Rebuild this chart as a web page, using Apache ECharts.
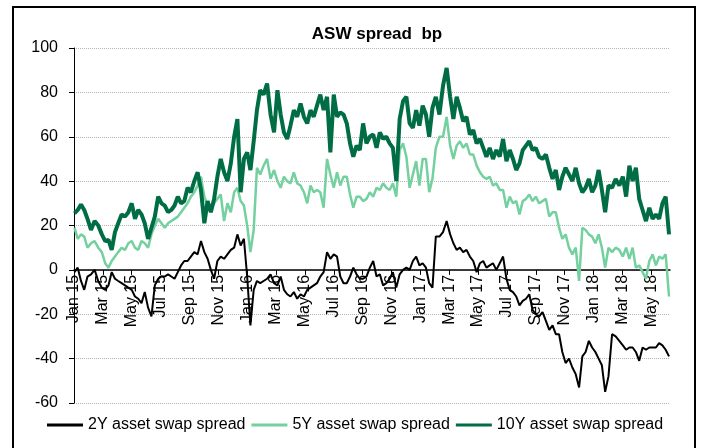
<!DOCTYPE html>
<html>
<head>
<meta charset="utf-8">
<script src="https://cdn.jsdelivr.net/npm/echarts@6/dist/echarts.min.js"></script>
<style>
  html, body { margin: 0; padding: 0; background: #fff; }
  #chart { width: 702px; height: 448px; }
</style>
</head>
<body>
<div id="chart"></div>
<script>
// weekly observations, first one on 2 Jan 2015
const firstWeek = '2015-01-02'
const seriesNames = ['2Y asset swap spread', '5Y asset swap spread', '10Y asset swap spread']
const monthNames = ['Jan', 'Feb', 'Mar', 'Apr', 'May', 'Jun', 'Jul', 'Aug', 'Sep', 'Oct', 'Nov', 'Dec']
const yTicks = [-60, -40, -20, 0, 20, 40, 60, 80, 100]

const asw2y = [
  -1, 1, -5, -9, -3, -2, 0, -5, -8, -9, -7, -1, -4, -5, -6, -7, -8, -9, -12, -13, -15, -10,
  -17, -21, -7, -4, -3, -3, -2, -3, -4, -1, 2, 4, 4, 6, 8, 7, 13, 8, 5, 0, -4, 4,
  6, 5, 7, 9, 10, 16, 11, 14, -3, -25, -9, -5, -6, -5, -4, -2, -6, -7, -3, -9, -11, -12, -10,
  -13, -11, -12, -9, -8, -7, -6, -3, -1, 8, 5, 7, 6, -3, -6, -6, -3, 1, -2, -4, -4, -3,
  1, 4, -3, -2, -7, -6, -4, -1, -8, -2, 0, 1, 0, 4, 6, 2, 3, 1, -6, -8, 15, 15, 17,
  22, 16, 12, 9, 10, 8, 9, 6, 4, -1, 3, 4, 1, 2, 3, 0, 3, 6, -4, -9, -10, -12,
  -16, -14, -13, -11, -18, -20, -21, -19, -23, -27, -25, -29, -29, -37, -42, -40, -44, -47, -53, -39, -37, -32, -35,
  -37, -40, -43, -55, -48, -29, -30, -32, -34, -36, -35, -35, -37, -41, -35, -36, -35, -35, -35, -33, -34, -36, -39
]
const asw5y = [
  19, 14, 16, 15, 10, 12, 13, 10, 8, 3, 1, 4, 6, 8, 10, 9, 12, 13, 10, 9, 13, 12,
  10, 16, 20, 23, 21, 19, 21, 22, 23, 24, 26, 28, 30, 33, 35, 38, 42, 33, 29, 27, 30, 32,
  34, 22, 30, 26, 35, 37, 31, 29, 20, 8, 18, 46, 43, 47, 50, 41, 45, 40, 37, 42, 40, 39, 44,
  39, 38, 35, 30, 38, 35, 36, 35, 28, 50, 43, 37, 44, 38, 42, 42, 34, 28, 33, 33, 31, 32,
  35, 33, 37, 36, 39, 37, 36, 39, 33, 54, 57, 51, 37, 43, 49, 38, 50, 50, 35, 41, 55, 60, 60,
  69, 56, 50, 56, 58, 55, 57, 52, 52, 47, 44, 42, 41, 42, 38, 39, 36, 36, 28, 33, 30, 31,
  25, 31, 32, 34, 31, 33, 30, 31, 32, 24, 26, 26, 19, 14, 16, 10, 7, 10, -5, 19, 18, 16, 15,
  12, 16, 10, 1, 10, 8, 10, 9, 6, 10, 5, 10, 1, 2, -1, -4, 4, 7, 2, 6, 5, 7, -12
]
const asw10y = [
  25.5, 27, 29.5, 27, 23, 18, 22, 20, 16, 13, 13.5, 9, 17, 21, 25, 24, 26, 30, 23, 27, 25, 21,
  14, 19, 24, 33, 30, 29, 26, 27, 29, 33, 30, 31, 37, 35, 40, 44, 36, 21, 31, 26, 32, 42,
  50, 44, 40, 48, 60, 68, 35, 50, 53, 45, 58, 72, 81, 79, 84, 70, 62, 81, 70, 62, 59, 65, 72,
  69, 75, 69, 66, 72, 69, 74, 79, 72, 78, 53, 79, 69, 71, 70, 66, 57, 51, 56, 54, 66, 57,
  60, 61, 55, 62, 59, 60, 57, 55, 40, 68, 76, 78, 66, 64, 72, 65, 74, 70, 60, 73, 78, 70, 83,
  91, 78, 68, 78, 73, 67, 69, 61, 63, 57, 59, 55, 51, 55, 50, 54, 51, 59, 49, 54, 50, 45,
  48, 54, 56, 58, 54, 55, 51, 50, 52, 46, 41, 45, 36, 42, 46, 43, 40, 46, 39, 35, 37, 41, 35,
  38, 45, 36, 26, 38, 37, 41, 38, 42, 33, 47, 40, 46, 32, 27, 22, 28, 23, 25, 23, 30, 33, 16
]

// x position in months since Jan 2015 for week i
const start = new Date(firstWeek + 'T00:00:00Z')
function monthPos(i) {
  const d = new Date(start.getTime() + i * 7 * 864e5)
  const y = d.getUTCFullYear(), m = d.getUTCMonth()
  const dim = new Date(Date.UTC(y, m + 1, 0)).getUTCDate()
  return (y - 2015) * 12 + m + (d.getUTCDate() - 1) / dim
}
const toPairs = vals => vals.map((v, i) => [monthPos(i), v])

const tickMonths = []
for (let k = 0; k <= 40; k += 2) tickMonths.push(k)
const monthLabel = v => monthNames[v % 12] + ' ' + (15 + Math.floor(v / 12))

// grid geometry, x axis (with its labels) sits on the zero line
const gridTop = 48, gridBottom = 45, chartHeight = 448
const plotHeight = chartHeight - gridTop - gridBottom
const yMin = yTicks[0], yMax = yTicks[yTicks.length - 1]
const zeroOffset = -plotHeight * (0 - yMin) / (yMax - yMin)

const font = 'Liberation Sans, Arial, sans-serif'
const chart = echarts.init(document.getElementById('chart'))

const option = {
  animation: false,
  backgroundColor: '#fff',
  title: {
    text: 'ASW spread  bp',
    left: 372,
    textAlign: 'center',
    top: 21,
    textStyle: { fontFamily: font, fontSize: 17, fontWeight: 'bold', color: '#000' }
  },
  graphic: [
    {
      type: 'rect',
      shape: { x: 13, y: 7, width: 682, height: 470 },
      style: { fill: 'none', stroke: '#000', lineWidth: 2 },
      silent: true
    }
  ],
  legend: {
    left: 47,
    top: 417,
    padding: 0,
    icon: 'rect',
    itemWidth: 36,
    itemHeight: 3,
    itemGap: 6,
    textStyle: { fontFamily: font, fontSize: 16, color: '#000' },
    data: seriesNames
  },
  grid: { left: 74, right: 32, top: gridTop, bottom: gridBottom },
  xAxis: {
    type: 'value',
    min: 0,
    max: 41.3,
    interval: 2,
    offset: zeroOffset,
    axisLine: { onZero: false, lineStyle: { color: '#000', width: 1.5 } },
    axisTick: { length: 5, customValues: tickMonths, lineStyle: { color: '#000' } },
    axisLabel: {
      customValues: tickMonths,
      rotate: 90,
      margin: 5,
      fontFamily: font,
      fontSize: 16,
      color: '#000',
      formatter: v => monthLabel(v)
    },
    splitLine: { show: false }
  },
  yAxis: {
    type: 'value',
    min: yMin,
    max: yMax,
    interval: 20,
    axisLine: { show: true, lineStyle: { color: '#000', width: 1 } },
    axisTick: { show: true, length: 5, lineStyle: { color: '#000' } },
    axisLabel: { margin: 16, fontFamily: font, fontSize: 16, color: '#000' },
    splitLine: { lineStyle: { color: '#b4b4b4', type: 'dotted', width: 1 } }
  },
  series: [
    {
      name: seriesNames[0], type: 'line', symbol: 'none',
      data: toPairs(asw2y),
      lineStyle: { color: '#000000', width: 2 },
      itemStyle: { color: '#000000' }
    },
    {
      name: seriesNames[1], type: 'line', symbol: 'none',
      data: toPairs(asw5y),
      lineStyle: { color: '#74d09e', width: 2.5 },
      itemStyle: { color: '#74d09e' }
    },
    {
      name: seriesNames[2], type: 'line', symbol: 'none',
      data: toPairs(asw10y),
      lineStyle: { color: '#006d45', width: 4 },
      itemStyle: { color: '#006d45' }
    }
  ]
}

chart.setOption(option)
window.addEventListener('resize', () => chart.resize())
</script>
</body>
</html>
